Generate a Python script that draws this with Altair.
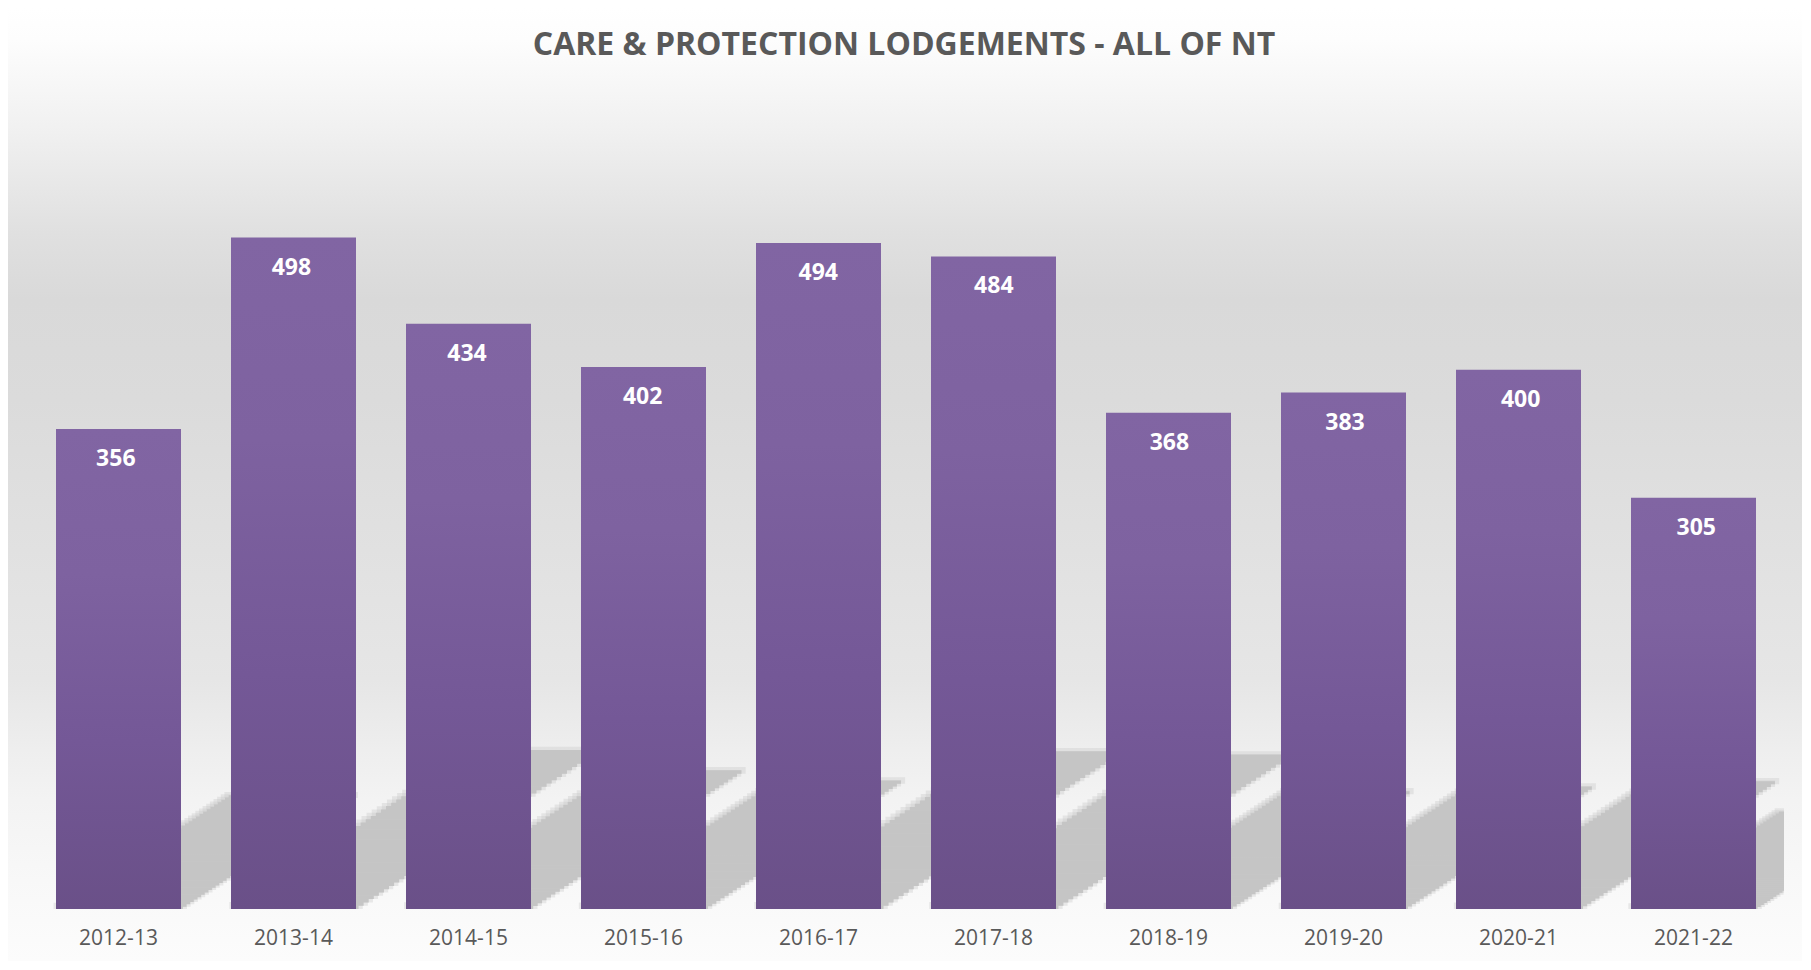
import altair as alt
import pandas as pd

# ---- data ----
seasons = ["2012-13", "2013-14", "2014-15", "2015-16", "2016-17",
           "2017-18", "2018-19", "2019-20", "2020-21", "2021-22"]
lodgements = [356, 498, 434, 402, 494, 484, 368, 383, 400, 305]
title_text = "CARE & PROTECTION LODGEMENTS - ALL OF NT"

# ---- layout / style constants ----
W, H = 1756, 809
PAD_L, PAD_R, PAD_T, PAD_B = 20, 18, 92, 52
Y_MAX = 600
P_INNER, P_OUTER = 0.2857, 0.16
HALF = (1 - P_INNER) / 2            # half bar width in category units
EDGE = 0.5 + P_OUTER - P_INNER / 2  # continuous domain margin matching the band scale
SHADOW_K = 0.236                    # vertical shrink of the perspective shadow
SHADOW_SHEAR = 0.0028               # horizontal shift (category units) per data unit
SLICES = 48                         # shadow drawn as thin sheared strips
FONT = "Open Sans"

df = pd.DataFrame({"season": seasons, "count": lodgements, "idx": list(range(len(seasons)))})
slice_df = pd.DataFrame({"j": list(range(SLICES))})
shadow_df = df.merge(slice_df, how="cross")

x_band = alt.Scale(domain=seasons, paddingInner=P_INNER, paddingOuter=P_OUTER)
x_lin = alt.Scale(domain=[-EDGE, len(seasons) - 1 + EDGE], nice=False, zero=False)
y_scale = alt.Scale(domain=[0, Y_MAX], nice=False, zero=True)

def page_stop(page_y, color):
    return alt.GradientStop(offset=max(0.0, min(1.0, (page_y - 8) / (PAD_T + H + PAD_B))), color=color)

bg_stops = [
    page_stop(8, "#ffffff"), page_stop(40, "#fdfdfd"), page_stop(133, "#f0f0f0"),
    page_stop(233, "#e0e0e0"), page_stop(300, "#d9d9d9"), page_stop(400, "#dbdbdb"),
    page_stop(500, "#dfdfdf"), page_stop(600, "#e3e3e3"), page_stop(680, "#e6e6e6"),
    page_stop(750, "#eeeeee"), page_stop(800, "#f3f3f3"), page_stop(880, "#f8f8f8"),
    page_stop(962, "#fcfcfc"),
]

one = pd.DataFrame({"k": [0]})

background = alt.Chart(one).mark_rect(
    color=alt.Gradient(gradient="linear", stops=bg_stops, x1=0, x2=0, y1=0, y2=1)
).encode(
    x=alt.value(-PAD_L), x2=alt.value(W + PAD_R),
    y=alt.value(-PAD_T), y2=alt.value(H + PAD_B),
)

def shadow_layer(grow, opacity):
    return alt.Chart(shadow_df).transform_calculate(
        f0=f"datum.j / {SLICES}",
        f1=f"(datum.j + 1) / {SLICES}",
        fm=f"(datum.j + 0.5) / {SLICES}",
    ).transform_calculate(
        sy=f"datum.f0 * {SHADOW_K} * datum.count",
        sy2=f"datum.f1 * {SHADOW_K} * datum.count + 0.4 + {grow} * 0.6",
        sx=f"datum.idx - {HALF} - {grow} * 0.006 + datum.fm * datum.count * {SHADOW_SHEAR}",
        sx2=f"datum.idx + {HALF} + {grow} * 0.006 + datum.fm * datum.count * {SHADOW_SHEAR}",
    ).mark_rect(clip=True, color="#c5c5c5", opacity=opacity, strokeWidth=0).encode(
        x=alt.X("sx:Q", scale=x_lin, axis=None),
        x2="sx2:Q",
        y=alt.Y("sy:Q", scale=y_scale, axis=None),
        y2="sy2:Q",
    )

shadow_soft = shadow_layer(4, 0.35)
shadow = shadow_layer(0, 1.0)

bar_gradient = alt.Gradient(
    gradient="linear", x1=0, x2=0, y1=0, y2=1,
    stops=[
        alt.GradientStop(offset=0, color="#8165A3"),
        alt.GradientStop(offset=0.3, color="#7E62A0"),
        alt.GradientStop(offset=0.65, color="#745897"),
        alt.GradientStop(offset=1, color="#6A5088"),
    ],
)

bars = alt.Chart(df).mark_bar(color=bar_gradient).encode(
    x=alt.X("season:N", sort=seasons, scale=x_band,
            axis=alt.Axis(title=None, orient="bottom", labelAngle=0, ticks=False, tickSize=0,
                          domain=False, grid=False, labelFont=FONT, labelFontSize=21,
                          labelColor="#595959", labelBaseline="middle", labelPadding=29,
                          zindex=1)),
    y=alt.Y("count:Q", scale=y_scale, axis=None),
)

labels = alt.Chart(df).mark_text(
    dy=30, baseline="middle", align="center", font=FONT, fontSize=23,
    fontWeight="bold", color="white",
).encode(
    x=alt.X("season:N", sort=seasons, scale=x_band, axis=None),
    y=alt.Y("count:Q", scale=y_scale, axis=None),
    text=alt.Text("count:Q"),
)

title = alt.Chart(pd.DataFrame({"t": [title_text]})).mark_text(
    baseline="middle", align="center", font=FONT, fontSize=32,
    fontWeight="bold", color="#595959",
).encode(
    x=alt.value(W / 2 - 2), y=alt.value(-55), text="t:N",
)

chart = alt.layer(background, shadow_soft, shadow, bars, labels, title).resolve_scale(
    x="independent"
).properties(
    width=W, height=H,
    autosize=alt.AutoSizeParams(type="none"),
    padding={"left": PAD_L, "right": PAD_R, "top": PAD_T, "bottom": PAD_B},
).configure_view(stroke=None)

chart.save("out.html", embed_options={"renderer": "svg", "actions": False})
